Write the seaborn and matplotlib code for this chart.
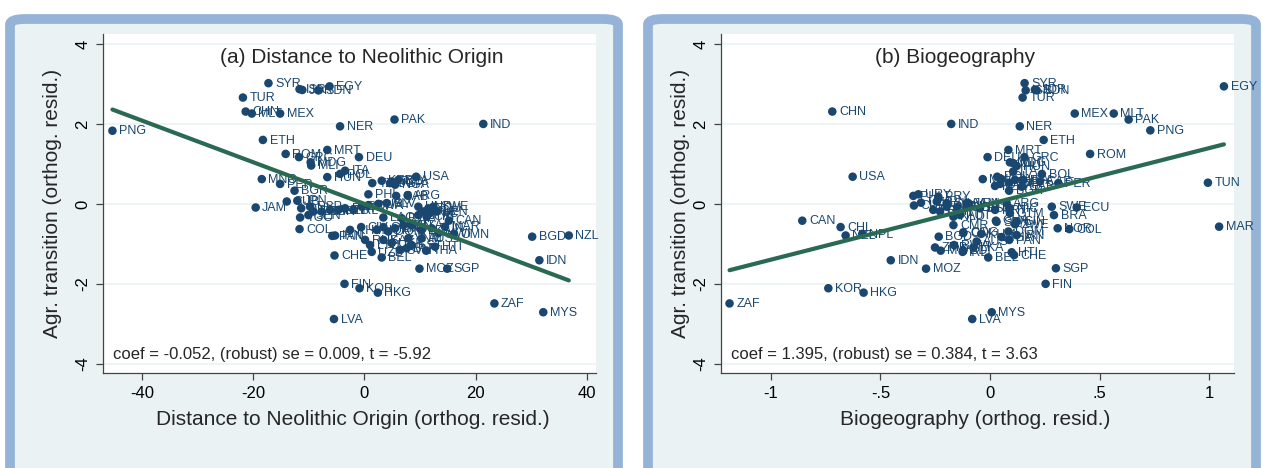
import numpy as np
import pandas as pd
import matplotlib
matplotlib.use('Agg')
import matplotlib.pyplot as plt
import seaborn as sns
from matplotlib.patches import FancyBboxPatch

# ---- panel (a): distance to Neolithic origin ----
dist_lab = ['PNG', 'SYR', 'ISR', 'JOR', 'SDN', 'EGY', 'TUR', 'CHN', 'MLT', 'MEX',
            'NER', 'PAK', 'IND', 'ETH', 'ROM', 'GRC', 'MRT', 'DEU', 'MDG', 'MLI',
            'HUN', 'ITA', 'POL', 'MNG', 'PER', 'BGR', 'JAM', 'USA', 'TZA', 'KEN',
            'UGA', 'TCD', 'NGA', 'BFA', 'PHL', 'GAB', 'ARG', 'CUB', 'JPN', 'DNK',
            'ESP', 'FRA', 'GBR', 'AUT', 'NLD', 'PRT', 'IRL', 'BDI', 'RWA', 'URY',
            'SLV', 'TGO', 'SEN', 'LAO', 'BWA', 'HND', 'BRA', 'ECU', 'SWE', 'NIC',
            'GTM', 'CRI', 'VEN', 'CAN', 'MAR', 'COL', 'PAN', 'IRN', 'KHM', 'CIV',
            'NOR', 'CMR', 'DOM', 'ZMB', 'GIN', 'DZA', 'LKA', 'TUN', 'MWI', 'AUS',
            'VNM', 'OMN', 'RUS', 'LTU', 'KAZ', 'UKR', 'BLR', 'EST', 'HTI', 'THA',
            'SVN', 'UZB', 'CHE', 'BEL', 'MOZ', 'SGP', 'BGD', 'NZL', 'IDN', 'FIN',
            'KOR', 'HKG', 'ZAF', 'MYS', 'LVA']
dist_x = [-45.4, -17.3, -11.7, -11.2, -8.3, -6.3, -21.9, -21.4, -20.3, -15.2,
          -4.4, 5.4, 21.4, -18.3, -14.2, -11.8, -6.7, -1.0, -9.7, -9.6,
          -6.7, -3.5, -4.4, -18.5, -15.2, -12.6, -19.6, 9.3, 1.4, 3.1,
          4.6, 4.9, 5.5, 6.1, 0.7, 5.7, 7.8, -14.0, -12.1, -11.4,
          -9.8, -9.2, -7.7, -6.2, -4.7, -3.5, -2.0, -0.5, 0.7, 2.5,
          4.0, -11.6, -10.1, 3.4, 6.7, 9.7, 10.6, 11.5, 12.4, 11.8,
          9.7, 11.2, 13.0, 15.2, 14.5, -11.7, -5.8, -5.3, -2.6, -0.6,
          2.2, 3.4, 4.3, 5.5, 7.0, 8.5, 10.3, 12.1, 13.3, 10.3,
          7.9, 16.1, 0.1, 1.0, 3.4, 4.9, 7.6, 8.5, 12.7, 11.1,
          6.4, 1.3, -5.4, 3.1, 9.9, 14.9, 30.2, 36.8, 31.5, -3.6,
          -0.9, 2.4, 23.4, 32.2, -5.5]
dist_y = [1.83, 3.02, 2.87, 2.85, 2.84, 2.94, 2.66, 2.31, 2.26, 2.26,
          1.94, 2.11, 2.00, 1.60, 1.25, 1.17, 1.35, 1.17, 1.04, 0.96,
          0.67, 0.83, 0.75, 0.62, 0.50, 0.33, -0.09, 0.68, 0.52, 0.58,
          0.52, 0.56, 0.48, 0.60, 0.24, 0.20, 0.22, 0.06, 0.08, -0.11,
          -0.07, -0.19, -0.19, -0.15, -0.15, -0.11, -0.15, -0.07, -0.03, 0.00,
          0.02, -0.34, -0.28, -0.34, -0.36, -0.07, -0.19, -0.11, -0.07, -0.23,
          -0.28, -0.32, -0.19, -0.42, -0.57, -0.63, -0.80, -0.79, -0.65, -0.58,
          -0.65, -0.58, -0.69, -0.61, -0.53, -0.53, -0.65, -0.61, -0.73, -0.86,
          -0.86, -0.75, -0.90, -1.03, -0.90, -0.98, -1.11, -1.03, -1.07, -1.17,
          -1.15, -1.20, -1.29, -1.34, -1.62, -1.62, -0.82, -0.79, -1.41, -2.00,
          -2.11, -2.22, -2.49, -2.71, -2.88]

# ---- panel (b): biogeography ----
bio_lab = ['ZAF', 'CHN', 'IND', 'USA', 'CAN', 'CHL', 'NZL', 'NPL', 'IDN', 'MOZ',
           'KOR', 'HKG', 'SYR', 'ISR', 'JOR', 'SDN', 'TUR', 'MEX', 'MLT', 'PAK',
           'PNG', 'EGY', 'NER', 'ETH', 'MRT', 'DEU', 'GRC', 'ROM', 'MDG', 'MLI',
           'HUN', 'ITA', 'BOL', 'MNG', 'POL', 'TZA', 'KEN', 'UGA', 'TCD', 'NGA',
           'BFA', 'CAF', 'PER', 'BGR', 'GAB', 'TUN', 'MAR', 'SWE', 'ECU', 'BRA',
           'NOR', 'COL', 'SGP', 'FIN', 'MYS', 'LVA', 'BEL', 'CHE', 'HTI', 'ZWE',
           'GHA', 'DOM', 'IRN', 'THA', 'PAN', 'CIV', 'AUS', 'LKA', 'IRL', 'ARG',
           'NIC', 'GTM', 'PRT', 'JAM', 'ESP', 'PHL', 'URY', 'PRY', 'CUB', 'UZB',
           'SLV', 'VEN', 'BGD', 'CMR', 'COG', 'ZMB', 'MWI', 'RWA', 'BDI', 'FRA',
           'GBR', 'DNK', 'NLD', 'AUT', 'HND', 'JPN', 'SEN', 'TGO', 'KHM', 'GIN']
bio_x = [-1.189, -0.720, -0.177, -0.627, -0.857, -0.682, -0.659, -0.583, -0.453, -0.292,
         -0.738, -0.577, 0.158, 0.163, 0.205, 0.213, 0.149, 0.387, 0.565, 0.633,
         0.732, 1.068, 0.136, 0.245, 0.084, -0.011, 0.157, 0.457, 0.091, 0.106,
         0.122, 0.106, 0.237, -0.033, 0.033, 0.053, 0.023, 0.046, 0.087, 0.114,
         0.152, 0.228, 0.312, 0.087, 0.145, 0.995, 1.046, 0.282, 0.396, 0.292,
         0.309, 0.362, 0.301, 0.254, 0.008, -0.081, -0.008, 0.110, 0.099, 0.114,
         0.027, 0.084, 0.122, 0.053, 0.088, -0.122, -0.061, -0.076, -0.125, 0.076,
         0.091, 0.091, 0.023, -0.106, -0.046, -0.350, -0.327, -0.236, -0.347, -0.315,
         -0.198, -0.099, -0.234, -0.167, -0.122, -0.251, -0.225, -0.164, -0.122, -0.259,
         -0.228, -0.198, -0.167, -0.137, -0.106, -0.243, 0.030, -0.150, -0.040, 0.122]
bio_y = [-2.49, 2.31, 2.00, 0.68, -0.42, -0.58, -0.79, -0.75, -1.41, -1.62,
         -2.11, -2.22, 3.02, 2.84, 2.86, 2.84, 2.66, 2.26, 2.26, 2.11,
         1.84, 2.94, 1.94, 1.60, 1.35, 1.17, 1.17, 1.25, 1.04, 1.02,
         0.95, 0.81, 0.75, 0.62, 0.68, 0.62, 0.45, 0.50, 0.53, 0.60,
         0.60, 0.56, 0.52, 0.33, 0.43, 0.53, -0.57, -0.07, -0.09, -0.28,
         -0.61, -0.63, -1.61, -2.00, -2.71, -2.88, -1.34, -1.28, -1.21, -0.51,
         -0.42, -0.69, -0.78, -0.83, -0.90, -0.73, -0.94, -1.09, -1.20, 0.02,
         -0.11, -0.23, -0.15, 0.02, -0.11, 0.20, 0.24, 0.18, -0.04, 0.03,
         0.02, 0.02, -0.82, -0.53, -0.71, -1.09, -1.17, -1.03, -1.17, -0.15,
         -0.19, -0.07, -0.32, -0.28, -0.07, 0.06, -0.45, -0.08, -0.75, -0.44]

coef_a, coef_b = -0.052, 1.395
note_a = 'coef = -0.052, (robust) se = 0.009, t = -5.92'
note_b = 'coef = 1.395, (robust) se = 0.384, t = 3.63'
yticks = [-4, -2, 0, 2, 4]
xticks_a = [-40, -20, 0, 20, 40]
xticks_b = [-1, -0.5, 0, 0.5, 1]
xticklabels_b = ['-1', '-.5', '0', '.5', '1']

NAVY = '#1a476f'
GREEN = '#2b6a52'
BG = '#eaf2f3'
FRAME = '#95b3d7'

sns.set_style('white')
plt.rcParams['font.family'] = ['Liberation Sans', 'DejaVu Sans']
plt.rcParams['axes.unicode_minus'] = False

W, H = 1263, 468
fig = plt.figure(figsize=(W / 100, H / 100), dpi=100)
fig.patch.set_facecolor('white')

# panel frames (rounded blue border around light background)
for x0 in [10, 648]:
    fig.patches.append(FancyBboxPatch((x0 / W, -20 / H), 608 / W, 469 / H,
                                      boxstyle='round,pad=0,rounding_size=0.012',
                                      transform=fig.transFigure, facecolor=BG,
                                      edgecolor=FRAME, linewidth=7, zorder=-5))


def panel(rect, x, y, lab, coef, xticks, xticklabels, xlim, title, title_x,
          xlabel, xlabel_x, ylabel_x, note):
    ax = fig.add_axes(rect)
    ax.set_zorder(1)
    ax.set_facecolor('white')
    df = pd.DataFrame({'x': x, 'y': y, 'lab': lab})
    sns.scatterplot(data=df, x='x', y='y', ax=ax, color=NAVY, s=38,
                    edgecolor='none', zorder=3)
    for r in df.itertuples():
        ax.annotate(r.lab, (r.x, r.y), xytext=(4.8, -0.5), textcoords='offset points',
                    ha='left', va='center', fontsize=9, color=NAVY, zorder=3)
    fit = pd.DataFrame({'x': [df['x'].min(), df['x'].max()]})
    fit['y'] = coef * fit['x']
    sns.lineplot(data=fit, x='x', y='y', ax=ax, color=GREEN, linewidth=3,
                 zorder=4)
    ax.set_xlim(*xlim)
    ax.set_ylim(-4.23, 4.25)
    ax.set_xticks(xticks)
    ax.set_xticklabels(xticklabels, fontsize=12)
    ax.set_yticks(yticks)
    ax.set_yticklabels([str(t) for t in yticks], fontsize=12, rotation=90,
                       va='center')
    ax.yaxis.grid(True, color=BG, linewidth=1.2)
    ax.set_axisbelow(True)
    ax.tick_params(axis='both', direction='out', length=5, width=0.9,
                   color='#444444', pad=4, labelcolor='black', left=True,
                   bottom=True)
    for s in ['top', 'right']:
        ax.spines[s].set_visible(False)
    for s in ['left', 'bottom']:
        ax.spines[s].set_color('#444444')
        ax.spines[s].set_linewidth(0.9)
    ax.set_xlabel('')
    ax.set_ylabel('')
    ax.text(title_x, 0.932, title, transform=ax.transAxes, ha='center',
            va='center', fontsize=15)
    ax.text(0.02, 0.056, note, transform=ax.transAxes, ha='left',
            va='center', fontsize=12)
    fig.text(xlabel_x, 0.1026, xlabel, ha='center', va='center', fontsize=15)
    fig.text(ylabel_x, 0.566, 'Agr. transition (orthog. resid.)', ha='center',
             va='center', rotation=90, fontsize=15)
    return ax


panel([103 / W, 95 / H, 493 / W, 339 / H], dist_x, dist_y, dist_lab, coef_a,
      xticks_a, [str(t) for t in xticks_a], (-47.1, 41.7),
      '(a) Distance to Neolithic Origin', 0.524,
      'Distance to Neolithic Origin (orthog. resid.)', 352.5 / W, 53 / W, note_a)
panel([721 / W, 95 / H, 513 / W, 339 / H], bio_x, bio_y, bio_lab, coef_b,
      xticks_b, xticklabels_b, (-1.228, 1.114),
      '(b) Biogeography', 0.456,
      'Biogeography (orthog. resid.)', 975 / W, 680 / W, note_b)

fig.savefig('out.png', dpi=100)
